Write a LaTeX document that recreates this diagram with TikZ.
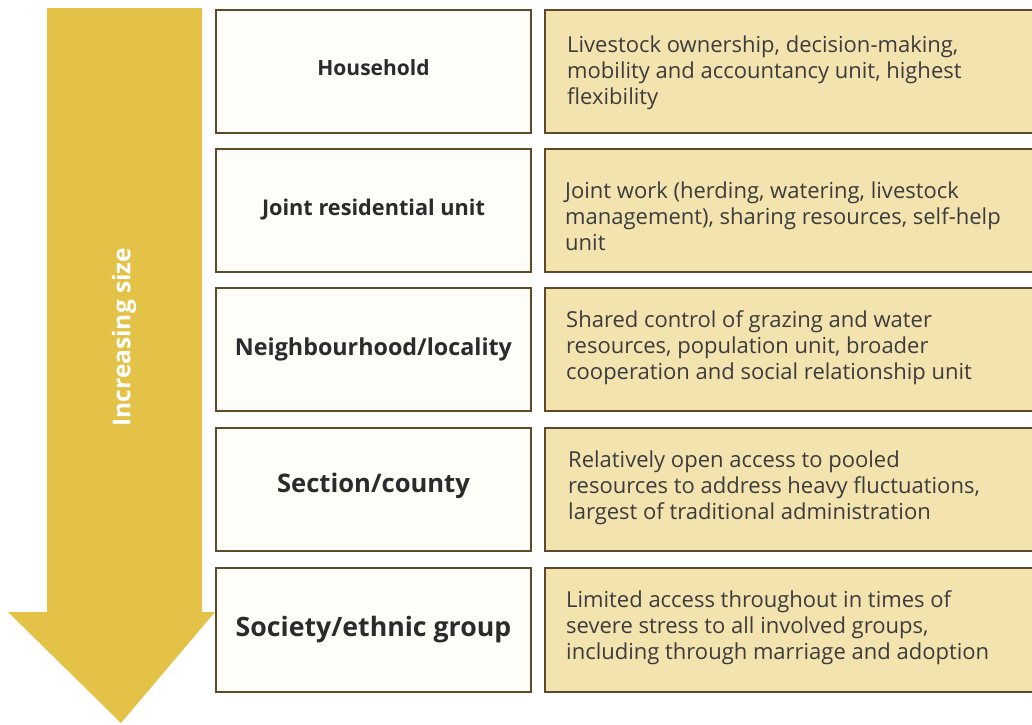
\documentclass[tikz,border=0pt]{standalone}
\usepackage{fontspec}
\setmainfont{Open Sans}
\definecolor{arrowc}{HTML}{E3C247}
\definecolor{bordc}{HTML}{5E4A2A}
\definecolor{leftf}{HTML}{FFFDF8}
\definecolor{rightf}{HTML}{F3E3AF}
\definecolor{txtc}{HTML}{2B2B2B}
\definecolor{desc}{HTML}{3C3C3C}
\begin{document}
\begin{tikzpicture}[x=1pt,y=-1pt,
  lbox/.style={draw=bordc,line width=2.6pt,fill=leftf},
  rbox/.style={draw=bordc,line width=2.6pt,fill=rightf},
  ltext/.style={text=txtc,font=\bfseries,align=center},
  rtext/.style={text=desc,anchor=west,align=left,inner sep=0pt,font=\fontsize{22}{26}\selectfont}]
\useasboundingbox (0,0) rectangle (1032,724);
% arrow
\fill[arrowc] (47,8) -- (202,8) -- (202,612) -- (215,612) -- (121,723) -- (8,612) -- (47,612) -- cycle;
\node[text=white,font=\fontsize{24.5}{28}\selectfont\bfseries,rotate=90] (lbl) at (124,337) {Increasing size};
% rows
\foreach \i/\t/\b in {1/10/133,2/149/272,3/288/411,4/428/551,5/568/692}{
  \draw[lbox] (216,\t) rectangle (531,\b);
  \draw[rbox] (545,\t) rectangle (1040,\b);
}
\node[ltext,font=\fontsize{21}{24}\selectfont\bfseries] (h1) at (373.5,68) {Household};
\node[ltext,font=\fontsize{21.7}{25}\selectfont\bfseries] (h2) at (373.5,210) {Joint residential unit};
\node[ltext,font=\fontsize{23.3}{27}\selectfont\bfseries] (h3) at (373.5,349) {Neighbourhood/locality};
\node[ltext,font=\fontsize{25.6}{29}\selectfont\bfseries] (h4) at (373.5,486) {Section/county};
\node[ltext,font=\fontsize{26.7}{31}\selectfont\bfseries] (h5) at (373.5,630) {Society/ethnic group};
\node[rtext] (d1) at (567,73) {Livestock ownership, decision-making,\\mobility and accountancy unit, highest\\flexibility};
\node[rtext] (d2) at (565,216) {Joint work (herding, watering, livestock\\management), sharing resources, self-help\\unit};
\node[rtext] (d3) at (566,348) {Shared control of grazing and water\\resources, population unit, broader\\cooperation and social relationship unit};
\node[rtext] (d4) at (568,488) {Relatively open access to pooled\\resources to address heavy fluctuations,\\largest of traditional administration};
\node[rtext] (d5) at (566,628) {Limited access throughout in times of\\severe stress to all involved groups,\\including through marriage and adoption};
\end{tikzpicture}
\end{document}
